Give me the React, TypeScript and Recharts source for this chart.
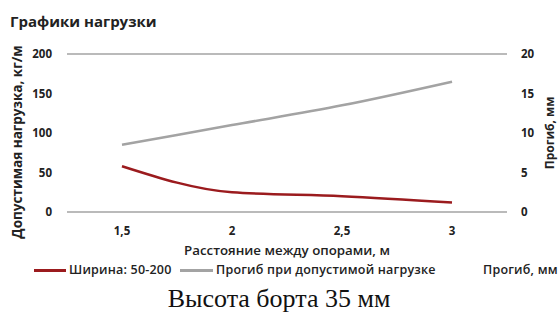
import { LineChart, Line, XAxis, YAxis, CartesianGrid } from 'recharts'

const spans = ['1,5', '2', '2,5', '3']
const loadKgM = [58, 25, 20, 12]
const deflectionMm = [8.5, 11, 13.5, 16.5]
const loadTicks = [0, 50, 100, 150, 200]
const deflTicks = [0, 5, 10, 15, 20]

const RED = '#9b1b1e'
const GRAY = '#a3a3a3'
const FONT = "'Open Sans', Roboto, sans-serif"

const data = spans.map((s, i) => ({ span: s, load: loadKgM[i], defl: deflectionMm[i] }))

const tick = { fill: '#222', fontSize: 11.5, fontWeight: 700, fontFamily: FONT }

const abs = { position: 'absolute' as const, whiteSpace: 'nowrap' as const, lineHeight: 1, color: '#222' }

export default function App() {
  return (
    <div style={{ position: 'fixed', left: 0, top: 0, width: 558, height: 323, background: '#fff', fontFamily: FONT }}>
      <div style={{ ...abs, left: 10, top: 14, fontSize: 15, fontWeight: 700 }}>Графики нагрузки</div>
      <LineChart width={558} height={250} data={data} margin={{ top: 54, right: 0, bottom: 8, left: 0 }}>
        <CartesianGrid vertical={false} stroke={GRAY} strokeWidth={1.5} />
        <XAxis dataKey="span" axisLine={false} tickLine={false} tickMargin={9} tick={tick} height={30} padding={{ left: 55, right: 55 }} />
        <YAxis yAxisId="l" domain={[0, 200]} ticks={loadTicks} axisLine={false} tickLine={false} tickMargin={9} tick={tick} width={67} />
        <YAxis yAxisId="r" orientation="right" domain={[0, 20]} ticks={deflTicks} axisLine={false} tickLine={false} tickMargin={8} tick={tick} width={51} />
        <Line yAxisId="l" dataKey="load" type="monotone" stroke={RED} strokeWidth={2.5} dot={false} isAnimationActive={false} />
        <Line yAxisId="r" dataKey="defl" type="monotone" stroke={GRAY} strokeWidth={2.5} dot={false} isAnimationActive={false} />
      </LineChart>
      <div style={{ ...abs, left: 18, top: 142, transform: 'translate(-50%, -50%) rotate(-90deg)', fontSize: 13.5, fontWeight: 700 }}>
        Допустимая нагрузка, кг/м
      </div>
      <div style={{ ...abs, left: 550, top: 133, transform: 'translate(-50%, -50%) rotate(-90deg)', fontSize: 12, fontWeight: 700 }}>
        Прогиб, мм
      </div>
      <div style={{ ...abs, left: 287, top: 251, transform: 'translate(-50%, -50%)', fontSize: 13.3, fontWeight: 600 }}>
        Расстояние между опорами, м
      </div>
      <div style={{ ...abs, left: 0, top: 264, width: 558, height: 14, fontSize: 12.5, fontWeight: 600, letterSpacing: 0.2 }}>
        <div style={{ position: 'absolute', left: 34, top: 5, width: 32, height: 3, background: RED }} />
        <div style={{ position: 'absolute', left: 69, top: 0 }}>Ширина: 50-200</div>
        <div style={{ position: 'absolute', left: 180, top: 5, width: 33, height: 3, background: GRAY }} />
        <div style={{ position: 'absolute', left: 216, top: 0 }}>Прогиб при допустимой нагрузке</div>
        <div style={{ position: 'absolute', left: 483, top: 0 }}>Прогиб, мм</div>
      </div>
      <div style={{ ...abs, left: 0, top: 286, width: 558, textAlign: 'center', fontFamily: "'Liberation Serif', 'DejaVu Serif', serif", fontSize: 26, color: '#111' }}>
        Высота борта 35 мм
      </div>
    </div>
  )
}
